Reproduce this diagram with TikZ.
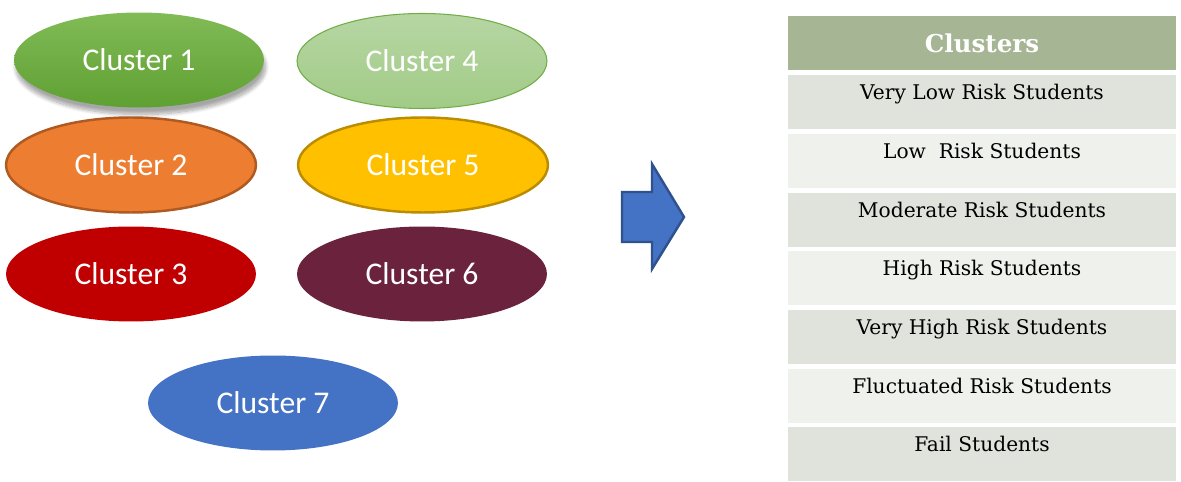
\documentclass[tikz,border=0pt]{standalone}
\usepackage{fontspec}
\setmainfont{DejaVu Serif}
\newfontfamily\calibrifont{Carlito}
\usepackage{tikz}
\usetikzlibrary{shapes,positioning,shadows.blur}
\usepackage{xcolor}

\definecolor{cgreen}{HTML}{70AD47}
\definecolor{cgreentop}{HTML}{81BB57}
\definecolor{cgreenbot}{HTML}{5FA032}
\definecolor{clighttop}{HTML}{B6D6A3}
\definecolor{clightbot}{HTML}{A2CB87}
\definecolor{corange}{HTML}{ED7D31}
\definecolor{corangeedge}{HTML}{AE5A21}
\definecolor{cyellow}{HTML}{FFC000}
\definecolor{cyellowedge}{HTML}{BC8C00}
\definecolor{cred}{HTML}{C00000}
\definecolor{cmaroon}{HTML}{6B233D}
\definecolor{cblue}{HTML}{4472C4}
\definecolor{cblueedge}{HTML}{2F528F}
\definecolor{thead}{HTML}{A6B593}
\definecolor{tdark}{HTML}{E0E3DB}
\definecolor{tlight}{HTML}{EFF1EC}

\begin{document}
\begin{tikzpicture}[x=0.02cm, y=-0.02cm,
    cluster/.style={ellipse, inner sep=0pt, minimum width=5cm, minimum height=1.9cm,
        text=white, font=\calibrifont\fontsize{18}{21}\selectfont},
    header/.style={rectangle, fill=thead, inner sep=0pt, minimum width=7.76cm, minimum height=1.08cm,
        text=white, font=\bfseries\fontsize{14}{17}\selectfont},
    row/.style={rectangle, inner sep=0pt, minimum width=7.76cm, minimum height=1.08cm,
        text height=0.3cm, text depth=0.4cm, font=\fontsize{11.5}{14}\selectfont}]
    \useasboundingbox (0,0) rectangle (1181,482);

    % clusters
    \node[cluster, top color=cgreentop, bottom color=cgreenbot,
        blur shadow={shadow xshift=1pt, shadow yshift=-4pt, shadow opacity=35, shadow blur steps=10}]
        (c1) at (139,60) {Cluster 1};
    \node[cluster, top color=clighttop, bottom color=clightbot, draw=cgreen, line width=0.6pt]
        (c4) at (422,61) {Cluster 4};
    \node[cluster, fill=corange, draw=corangeedge, line width=1.4pt] (c2) at (131,165) {Cluster 2};
    \node[cluster, fill=cyellow, draw=cyellowedge, line width=1.4pt] (c5) at (423,165) {Cluster 5};
    \node[cluster, fill=cred] (c3) at (131,274) {Cluster 3};
    \node[cluster, fill=cmaroon] (c6) at (422,274) {Cluster 6};
    \node[cluster, fill=cblue] (c7) at (273,403) {Cluster 7};

    % big arrow
    \draw[fill=cblue, draw=cblueedge, line width=1.4pt, line join=miter]
        (622,192) -- (652,192) -- (652,164) -- (684,217) -- (652,269) -- (652,242) -- (622,242) -- cycle;

    % table
    \node[header] (head) at (982,43) {Clusters};
    \node[row, fill=tdark, anchor=north] (r1) at (982,75) {Very Low Risk Students};
    \node[row, fill=tlight, below=0.08cm of r1] (r2) {Low\ \ Risk Students};
    \node[row, fill=tdark, below=0.08cm of r2] (r3) {Moderate Risk Students};
    \node[row, fill=tlight, below=0.08cm of r3] (r4) {High Risk Students};
    \node[row, fill=tdark, below=0.08cm of r4] (r5) {Very High Risk Students};
    \node[row, fill=tlight, below=0.08cm of r5] (r6) {Fluctuated Risk Students};
    \node[row, fill=tdark, below=0.08cm of r6] (r7) {Fail Students};
\end{tikzpicture}
\end{document}
